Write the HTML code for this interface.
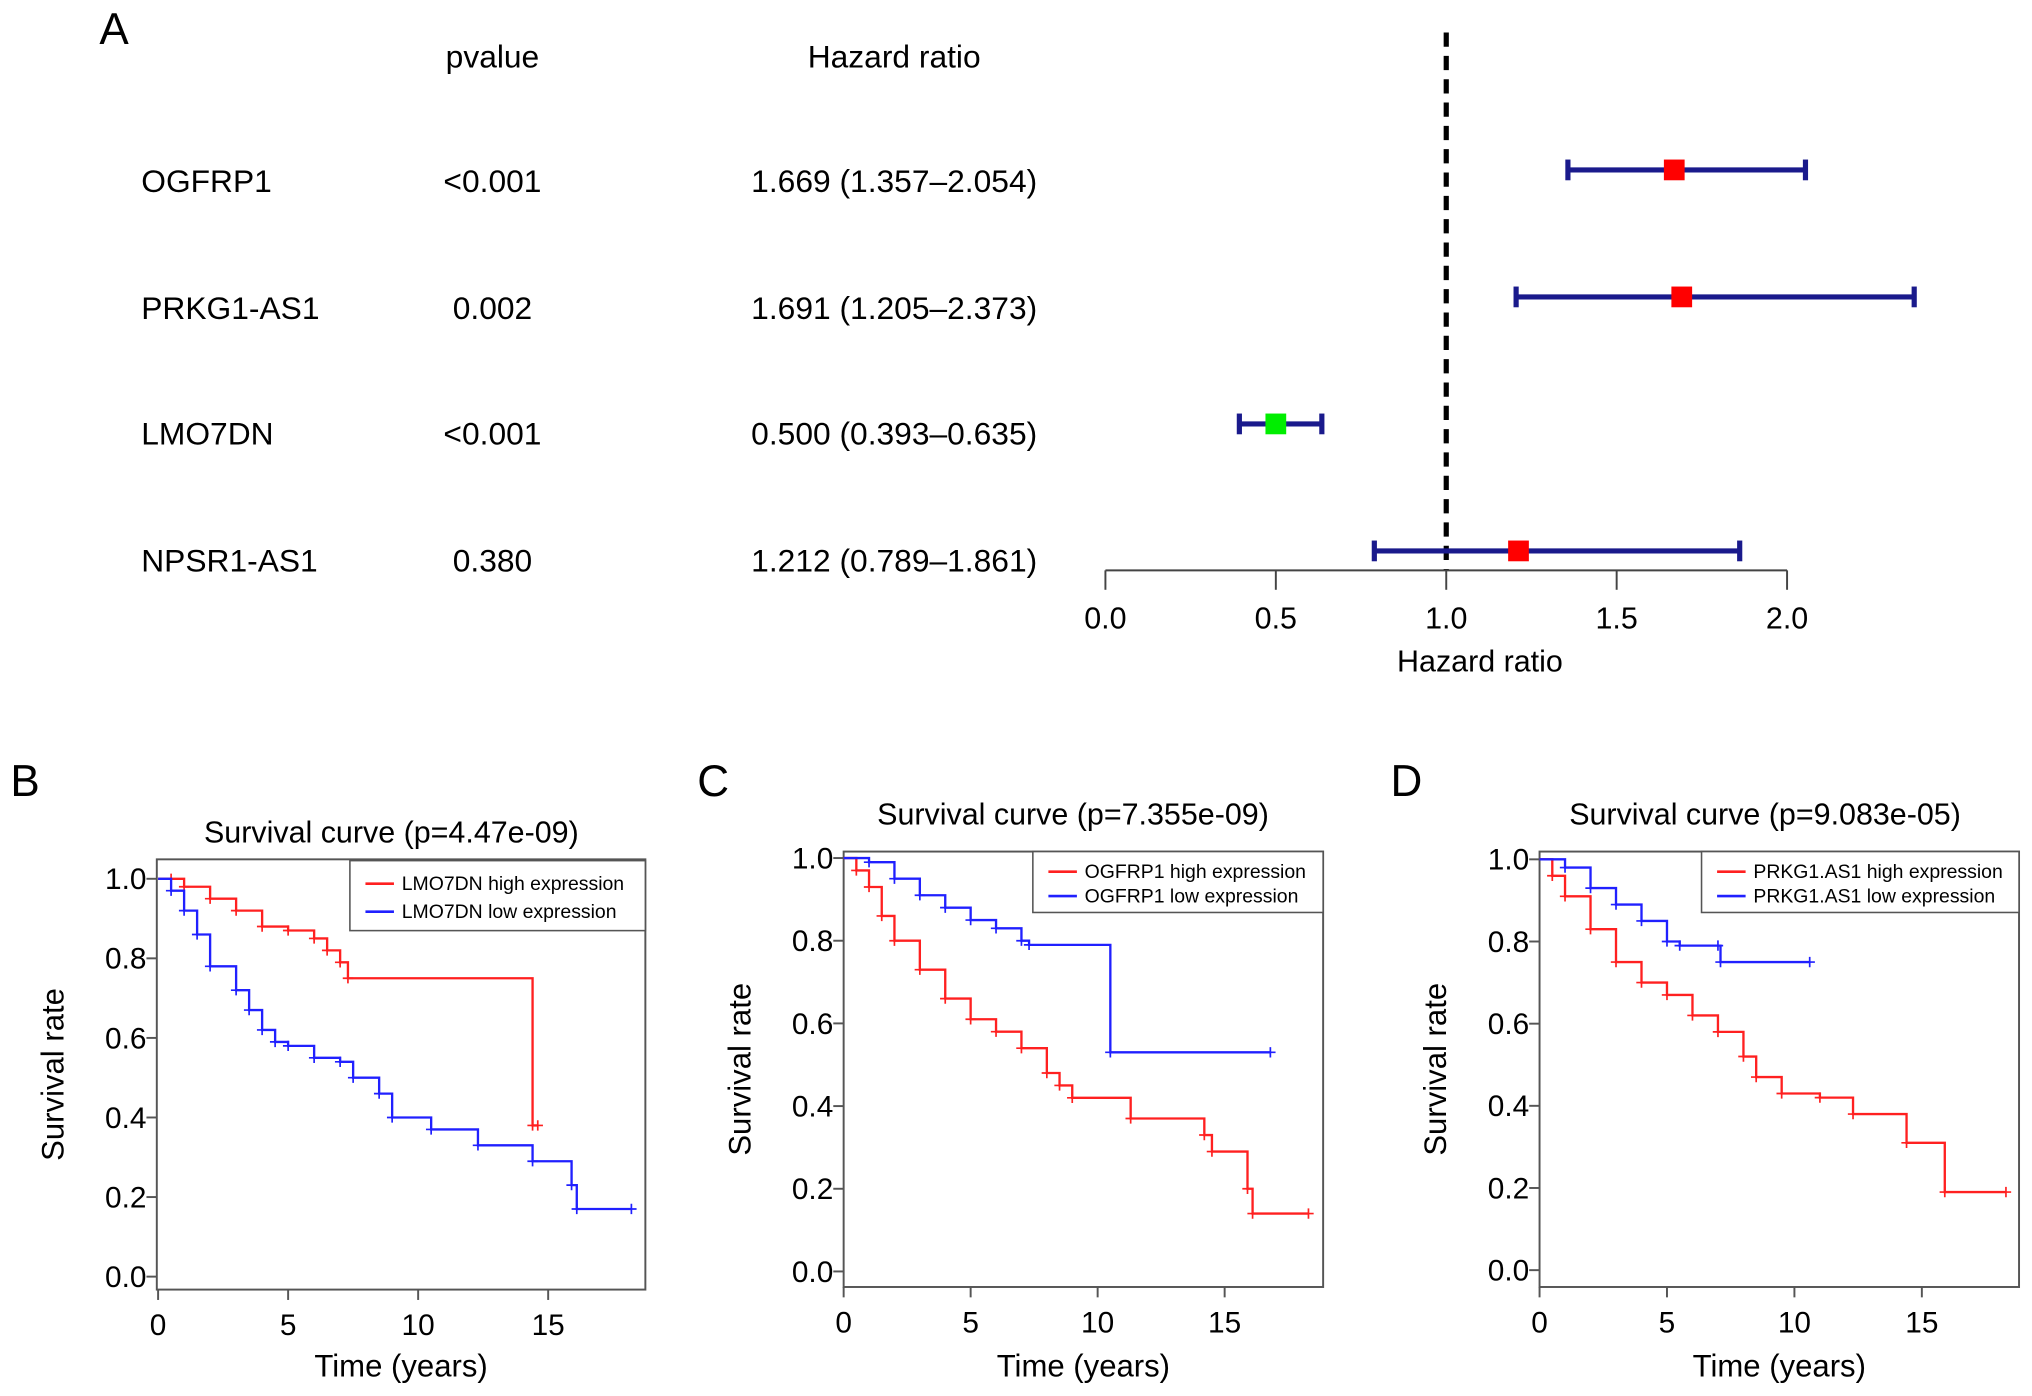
<!DOCTYPE html>
<html><head><meta charset="utf-8"><style>
html,body{margin:0;padding:0;background:#fff;}
svg{display:block;font-family:"Liberation Sans",Arial,sans-serif;}
</style></head><body>
<svg id="fig" width="2032" height="1396" viewBox="0 0 1568 1077">
<g id="forest"></g>
<g id="panels"></g>
</svg>
<script>
const genes = ["OGFRP1","PRKG1-AS1","LMO7DN","NPSR1-AS1"];
const pvals = ["<0.001","0.002","<0.001","0.380"];
const hr = [1.669,1.691,0.500,1.212];
const hrLow = [1.357,1.205,0.393,0.789];
const hrHigh = [2.054,2.373,0.635,1.861];
const hrTicks = [0,0.5,1,1.5,2];

const bHighT=[0,0.5,1,2,3,4,5,6,6.5,7,7.3,14.4,14.6];
const bHighS=[1,1,0.98,0.95,0.92,0.88,0.87,0.85,0.82,0.79,0.75,0.38,0.38];
const bLowT=[0,0.5,1,1.5,2,3,3.5,4,4.5,5,6,7,7.5,8.5,9,10.5,12.3,14.4,15.9,16.1,18.2];
const bLowS=[1,0.97,0.92,0.86,0.78,0.72,0.67,0.62,0.59,0.58,0.55,0.54,0.5,0.46,0.4,0.37,0.33,0.29,0.23,0.17,0.17];
const cHighT=[0,0.5,1,1.5,2,3,4,5,6,7,8,8.5,9,11.3,14.2,14.5,15.9,16.1,18.3];
const cHighS=[1,0.97,0.93,0.86,0.8,0.73,0.66,0.61,0.58,0.54,0.48,0.45,0.42,0.37,0.33,0.29,0.2,0.14,0.14];
const cLowT=[0,1,2,3,4,5,6,7,7.3,10.5,16.8];
const cLowS=[1,0.99,0.95,0.91,0.88,0.85,0.83,0.8,0.79,0.53,0.53];
const dHighT=[0,0.5,1,2,3,4,5,6,7,8,8.5,9.5,11,12.3,14.4,15.9,18.3];
const dHighS=[1,0.96,0.91,0.83,0.75,0.7,0.67,0.62,0.58,0.52,0.47,0.43,0.42,0.38,0.31,0.19,0.19];
const dLowT=[0,1,2,3,4,5,5.5,7,7.1,10.6];
const dLowS=[1,0.98,0.93,0.89,0.85,0.8,0.79,0.79,0.75,0.75];
const yTicks=[0,0.2,0.4,0.6,0.8,1.0];
const xTicks=[0,5,10,15];

const NS="http://www.w3.org/2000/svg";
function mk(tag,attrs,parent,txt){const e=document.createElementNS(NS,tag);for(const k in attrs)e.setAttribute(k,attrs[k]);if(txt!==undefined)e.textContent=txt;parent.appendChild(e);return e;}

const F=document.getElementById('forest');
const fx=v=>853+v*263;
const rowY=[131,229,327,425], txtY=[148,246,343,441];
let t=mk('text',{x:88,y:34,'font-size':34,'text-anchor':'middle'},F,'A');

t=mk('text',{x:380,y:52,'font-size':24.5,'text-anchor':'middle'},F,'pvalue');

t=mk('text',{x:690,y:52,'font-size':24.5,'text-anchor':'middle'},F,'Hazard ratio');

genes.forEach((g,i)=>{
  let e=mk('text',{x:109,y:txtY[i],'font-size':24.5},F,g);
  
  e=mk('text',{x:380,y:txtY[i],'font-size':24.5,'text-anchor':'middle'},F,pvals[i]);
  
  e=mk('text',{x:690,y:txtY[i],'font-size':24.5,'text-anchor':'middle'},F,hr[i].toFixed(3)+' ('+hrLow[i].toFixed(3)+'–'+hrHigh[i].toFixed(3)+')');
  
});
let dl=mk('line',{x1:fx(1),x2:fx(1),y1:25,y2:440,stroke:'#000','stroke-width':4,'stroke-dasharray':'11,7'},F);

let ax=mk('line',{x1:fx(0),x2:fx(2),y1:440,y2:440,stroke:'#444','stroke-width':1.5},F);

hrTicks.forEach(v=>{
  let l=mk('line',{x1:fx(v),x2:fx(v),y1:440,y2:455,stroke:'#444','stroke-width':1.5},F);
  
  let e=mk('text',{x:fx(v),y:485,'font-size':23.5,'text-anchor':'middle'},F,v.toFixed(1));
  
});
t=mk('text',{x:1142,y:518,'font-size':23.5,'text-anchor':'middle'},F,'Hazard ratio');

hr.forEach((v,i)=>{
  const y=rowY[i];
  let l=mk('line',{x1:fx(hrLow[i]),x2:fx(hrHigh[i]),y1:y,y2:y,stroke:'#1a1a8c','stroke-width':4},F);
  
  [hrLow[i],hrHigh[i]].forEach(c=>{
    let cap=mk('line',{x1:fx(c),x2:fx(c),y1:y-8,y2:y+8,stroke:'#1a1a8c','stroke-width':4},F);
    
  });
  let r=mk('rect',{x:fx(v)-8,y:y-8,width:16,height:16,fill:v<1?'#00ee00':'#ff0000'},F);
  
});

const P=document.getElementById('panels');
function panel(cfg){
  const g=mk('g',{},P);
  
  
  const sx=v=>cfg.x0+v*(cfg.x15-cfg.x0)/15;
  const sy=v=>cfg.y0+v*(cfg.y1-cfg.y0);
  let e=mk('text',{x:cfg.lx,y:cfg.ly,'font-size':34},g,cfg.label);
  
  e=mk('text',{x:cfg.tx,y:cfg.ty,'font-size':23.5,'text-anchor':'middle'},g,cfg.title);
  
  e=mk('rect',{x:cfg.bx,y:cfg.by,width:cfg.bw,height:cfg.bh,fill:'none',stroke:'#555','stroke-width':1.5},g);
  
  yTicks.forEach(v=>{
    let l=mk('line',{x1:cfg.bx-8,x2:cfg.bx,y1:sy(v),y2:sy(v),stroke:'#555','stroke-width':1.5},g);
    
    let tt=mk('text',{x:cfg.bx-8,y:sy(v)+8,'font-size':23,'text-anchor':'end'},g,v.toFixed(1));
    
  });
  xTicks.forEach(v=>{
    let l=mk('line',{x1:sx(v),x2:sx(v),y1:cfg.by+cfg.bh,y2:cfg.by+cfg.bh+8,stroke:'#555','stroke-width':1.5},g);
    
    let tt=mk('text',{x:sx(v),y:cfg.by+cfg.bh+35,'font-size':23,'text-anchor':'middle'},g,String(v));
    
  });
  e=mk('text',{x:(cfg.bx+cfg.bx+cfg.bw)/2,y:1062,'font-size':24,'text-anchor':'middle'},g,'Time (years)');
  
  const cy=cfg.by+cfg.bh/2;
  e=mk('text',{x:0,y:0,'font-size':24,'text-anchor':'middle',transform:'translate('+(cfg.bx-72)+','+cy+') rotate(-90)'},g,'Survival rate');
  
  cfg.series.forEach(s=>{
    let d='M'+sx(s.t[0])+','+sy(s.s[0]);
    for(let i=1;i<s.t.length;i++){d+=' H'+sx(s.t[i])+' V'+sy(s.s[i]);}
    let p=mk('path',{d:d,fill:'none',stroke:s.c,'stroke-width':1.8},g);
    
    for(let i=1;i<s.t.length;i++){
      const x=sx(s.t[i]),y=sy(s.s[i]);
      let m=mk('path',{d:'M'+(x-4)+','+y+' H'+(x+4)+' M'+x+','+(y-4)+' V'+(y+4),stroke:s.c,'stroke-width':1.3},g);
      
    }
  });
  const L=cfg.leg;
  e=mk('rect',{x:L.x,y:L.y,width:cfg.bx+cfg.bw-L.x,height:L.h,fill:'#fff',stroke:'#555','stroke-width':1.2},g);
  
  cfg.series.forEach((s,i)=>{
    const yy=L.y+L.h*(0.33+0.4*i);
    let l=mk('line',{x1:L.x+12,x2:L.x+34,y1:yy,y2:yy,stroke:s.c,'stroke-width':2},g);
    
    let tt=mk('text',{x:L.x+40,y:yy+5,'font-size':15},g,s.name);
    
  });
}
panel({label:'B',lx:8,ly:614,title:'Survival curve (p=4.47e-09)',tx:302,ty:650,bx:121,by:663,bw:377,bh:332,
  x0:122,x15:423,y0:985,y1:678,leg:{x:270,y:664,h:54},
  series:[{t:bHighT,s:bHighS,c:'#ff2020',name:'LMO7DN high expression'},{t:bLowT,s:bLowS,c:'#2020ff',name:'LMO7DN low expression'}]});
panel({label:'C',lx:538,ly:614,title:'Survival curve (p=7.355e-09)',tx:828,ty:636,bx:651,by:657,bw:370,bh:336,
  x0:651,x15:945,y0:981,y1:662,leg:{x:797,y:657,h:47},
  series:[{t:cHighT,s:cHighS,c:'#ff2020',name:'OGFRP1 high expression'},{t:cLowT,s:cLowS,c:'#2020ff',name:'OGFRP1 low expression'}]});
panel({label:'D',lx:1073,ly:614,title:'Survival curve (p=9.083e-05)',tx:1362,ty:636,bx:1188,by:657,bw:370,bh:336,
  x0:1188,x15:1483,y0:980,y1:663,leg:{x:1313,y:657,h:47},
  series:[{t:dHighT,s:dHighS,c:'#ff2020',name:'PRKG1.AS1 high expression'},{t:dLowT,s:dLowS,c:'#2020ff',name:'PRKG1.AS1 low expression'}]});
</script>
</body></html>
